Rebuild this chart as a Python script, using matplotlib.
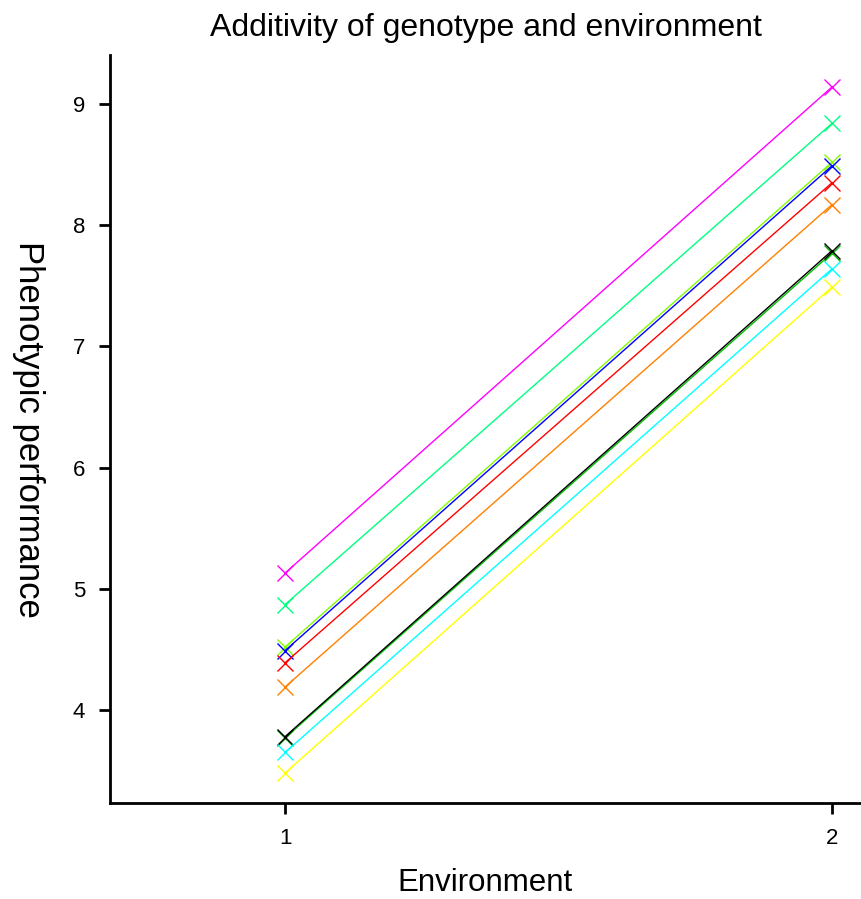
import matplotlib
matplotlib.use("Agg")
import matplotlib.pyplot as plt

plt.rcParams['font.family'] = ['Liberation Sans', 'DejaVu Sans']

environments = [1, 2]
colors = ['#ff00ff', '#00ff80', '#80ff00', '#0000ff', '#ff0000',
          '#ff8000', '#00c000', '#000000', '#00ffff', '#ffff00']
env1_values = [5.13, 4.87, 4.52, 4.49, 4.39, 4.19, 3.77, 3.78, 3.65, 3.48]
env2_values = [9.14, 8.84, 8.52, 8.49, 8.35, 8.17, 7.77, 7.79, 7.64, 7.49]
yticks = [4, 5, 6, 7, 8, 9]
xticks = [1, 2]

fig = plt.figure(figsize=(8.61, 8.99), dpi=100)
ax = fig.add_axes([110/861, 1 - 803/899, 751/861, 748/899])

for c, v1, v2 in zip(colors, env1_values, env2_values):
    ax.plot(environments, [v1, v2], color=c, linewidth=1, marker='x',
            markersize=12, markeredgewidth=1)

ax.set_xlim(0.68, 2.053)
ax.set_ylim(3.233, 9.404)
ax.set_xticks(xticks)
ax.set_yticks(yticks)
ax.spines['top'].set_visible(False)
ax.spines['right'].set_visible(False)
ax.spines['left'].set_linewidth(2)
ax.spines['bottom'].set_linewidth(2)
ax.tick_params(axis='both', direction='out', length=8, width=2, labelsize=16, pad=10)

ax.set_title('Additivity of genotype and environment', fontsize=23, pad=14)
ax.set_xlabel('Environment', fontsize=22.5, labelpad=14)
ax.set_ylabel('Phenotypic performance', fontsize=25, rotation=270, labelpad=44)

fig.savefig('out.png', dpi=100)
